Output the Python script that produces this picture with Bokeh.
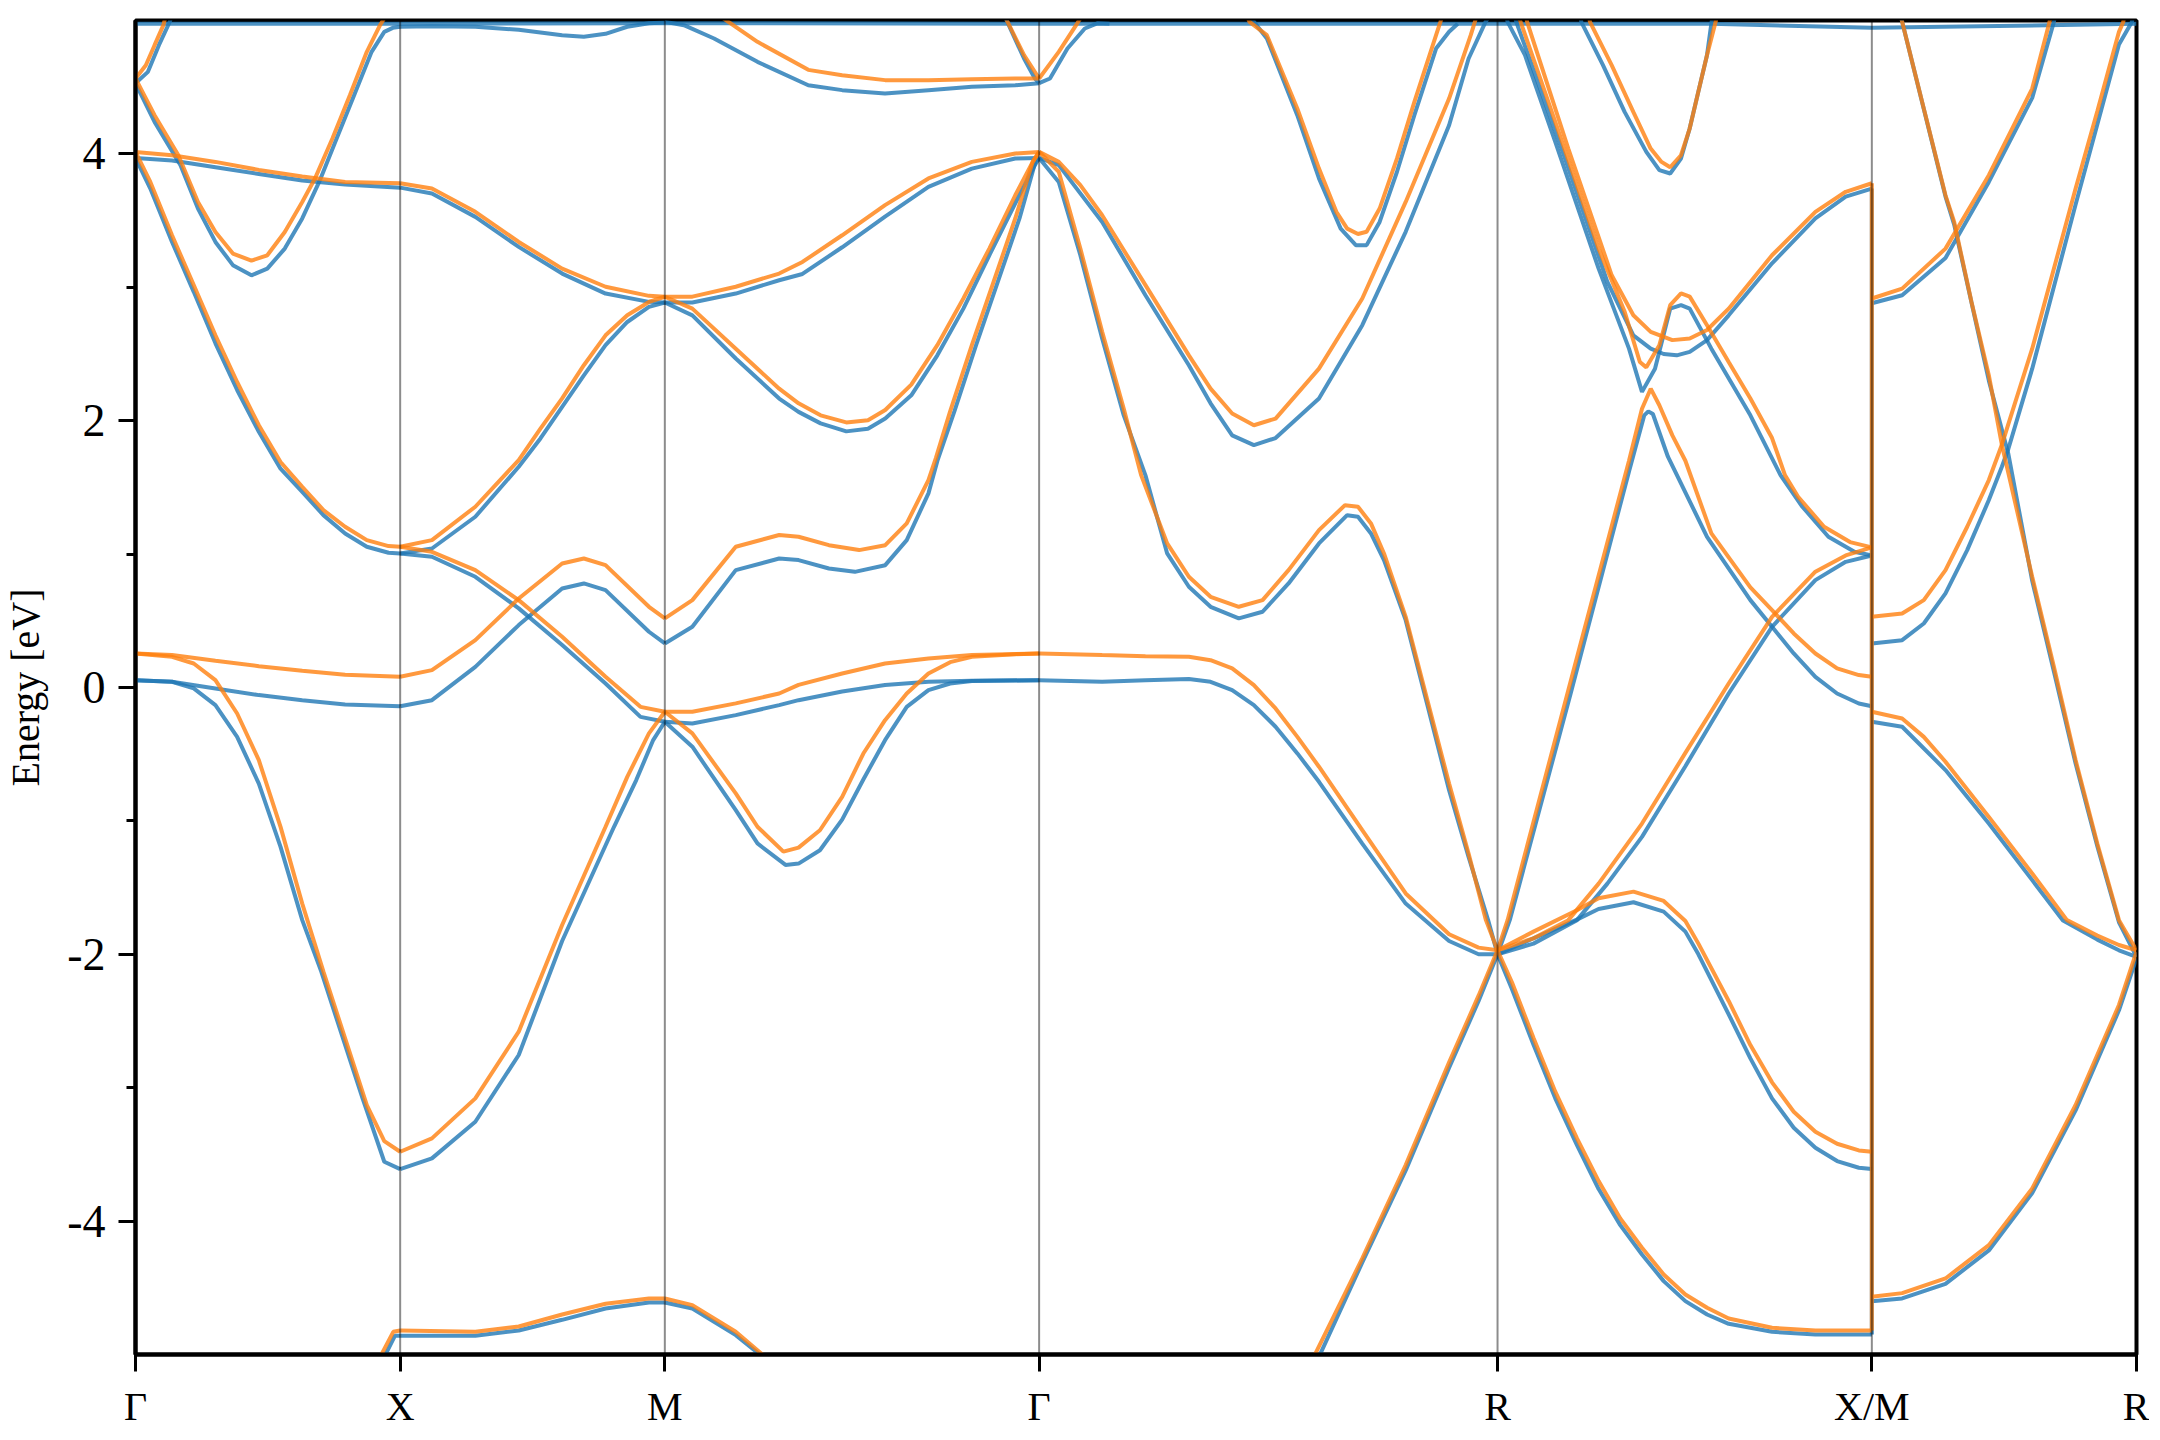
import math
from bokeh.plotting import figure
from bokeh.models import FixedTicker, Span
from bokeh.embed import file_html
from bokeh.resources import INLINE

# high-symmetry path positions (simple cubic, units of 2pi/a)
K_G, K_X, K_M = 0.0, 0.5, 1.0
K_G2 = K_M + math.sqrt(0.5)
K_R = K_G2 + math.sqrt(0.75)
K_XM = K_R + math.sqrt(0.5)
K_R2 = K_XM + 0.5
TICK_K = [K_G, K_X, K_M, K_G2, K_R, K_XM, K_R2]
TICK_LABELS = ["Γ", "X", "M", "Γ", "R", "X/M", "R"]
Y_TICKS = [-4, -2, 0, 2, 4]
Y_TICK_LABELS = ["-4", "-2", "0", "2", "4"]
Y_MINOR = [-3, -1, 1, 3]

# ---------------- spin up (blue) : (k, E[eV]) ----------------
up_top = ([0.0, 0.5, 1.0, 1.7071, 2.5731, 2.977, 3.2802, 3.7802], [4.975, 4.975, 4.98, 4.975, 4.975, 4.975, 4.945, 4.975])
up_gx_top = ([0.0, 0.0235, 0.0442, 0.0646, 0.070], [4.53, 4.615, 4.815, 4.99, 5.05])
up_gx_dip = ([0.0, 0.036, 0.085, 0.118, 0.151, 0.184, 0.219, 0.249, 0.282, 0.315, 0.347, 0.380, 0.413, 0.446, 0.470, 0.486, 0.500],
             [4.53, 4.24, 3.915, 3.59, 3.34, 3.166, 3.09, 3.14, 3.29, 3.516, 3.79, 4.115, 4.44, 4.765, 4.915, 4.945, 4.953])
up_gx_flat = ([0.0, 0.069, 0.151, 0.233, 0.315, 0.396, 0.500], [3.97, 3.95, 3.90, 3.85, 3.80, 3.77, 3.747])
up_gx_par = ([0.0, 0.028, 0.069, 0.110, 0.151, 0.192, 0.233, 0.274, 0.315, 0.355, 0.396, 0.437, 0.478, 0.500],
             [3.97, 3.74, 3.34, 2.966, 2.58, 2.23, 1.917, 1.64, 1.467, 1.292, 1.155, 1.055, 1.01, 1.005])
up_gx_flat0 = ([0.0, 0.069, 0.151, 0.233, 0.315, 0.396, 0.500], [0.055, 0.043, -0.007, -0.057, -0.095, -0.127, -0.14])
up_gx_steep = ([0.0, 0.069, 0.110, 0.151, 0.192, 0.233, 0.274, 0.315, 0.351, 0.392, 0.429, 0.470, 0.500],
               [0.055, 0.043, -0.007, -0.132, -0.37, -0.72, -1.195, -1.744, -2.13, -2.63, -3.08, -3.555, -3.61])
up_gx_bot = ([0.466, 0.490, 0.500], [-5.05, -4.86, -4.86])

up_xm_top = ([0.500, 0.560, 0.642, 0.724, 0.806, 0.847, 0.888, 0.929, 0.970, 1.000],
             [4.953, 4.957, 4.953, 4.93, 4.89, 4.878, 4.90, 4.953, 4.98, 4.985])
up_xm_flat = ([0.500, 0.560, 0.642, 0.724, 0.806, 0.888, 0.970, 1.000], [3.747, 3.703, 3.528, 3.303, 3.103, 2.953, 2.891, 2.886])
up_xm_up = ([0.500, 0.560, 0.642, 0.724, 0.765, 0.806, 0.847, 0.888, 0.929, 0.970, 1.000],
            [1.005, 1.042, 1.28, 1.655, 1.867, 2.104, 2.34, 2.566, 2.74, 2.853, 2.886])
up_xm_dn = ([0.500, 0.560, 0.642, 0.724, 0.806, 0.888, 0.954, 1.000], [1.005, 0.98, 0.83, 0.593, 0.318, 0.03, -0.22, -0.257])
up_xm_hump = ([0.500, 0.560, 0.642, 0.724, 0.806, 0.847, 0.888, 0.970, 1.000], [-0.14, -0.095, 0.155, 0.468, 0.742, 0.78, 0.73, 0.418, 0.33])
up_xm_low = ([0.500, 0.560, 0.642, 0.724, 0.806, 0.904, 0.946, 0.978, 1.000], [-3.61, -3.53, -3.255, -2.755, -1.90, -1.044, -0.694, -0.394, -0.257])
up_xm_bot = ([0.500, 0.642, 0.724, 0.806, 0.888, 0.970, 1.000], [-4.86, -4.86, -4.82, -4.74, -4.655, -4.61, -4.61])

up_mg_top = ([1.000, 1.036, 1.093, 1.175, 1.271, 1.335, 1.416, 1.498, 1.580, 1.662, 1.7071],
             [4.99, 4.965, 4.865, 4.69, 4.515, 4.478, 4.453, 4.478, 4.503, 4.515, 4.53])
up_mg_steep = ([1.640, 1.6786, 1.6991, 1.7071], [5.05, 4.715, 4.565, 4.53])
up_mg_d = ([1.000, 1.052, 1.134, 1.216, 1.260, 1.335, 1.416, 1.498, 1.580, 1.662, 1.7071],
           [2.886, 2.886, 2.953, 3.053, 3.10, 3.30, 3.53, 3.753, 3.89, 3.965, 3.97])
up_mg_min2 = ([1.000, 1.052, 1.134, 1.216, 1.2526, 1.2943, 1.3428, 1.3838, 1.4164, 1.4656, 1.5148, 1.564, 1.613, 1.662, 1.699, 1.7071],
              [2.886, 2.79, 2.466, 2.166, 2.066, 1.98, 1.92, 1.94, 2.016, 2.19, 2.49, 2.84, 3.24, 3.63, 3.916, 3.97])
up_mg_q = ([1.000, 1.052, 1.134, 1.216, 1.2526, 1.310, 1.359, 1.4164, 1.457, 1.498, 1.515, 1.547, 1.588, 1.629, 1.670, 1.700, 1.7071],
           [0.33, 0.455, 0.88, 0.967, 0.955, 0.892, 0.867, 0.917, 1.105, 1.455, 1.70, 2.07, 2.566, 3.04, 3.516, 3.94, 3.97])
up_mg_uf = ([1.000, 1.052, 1.134, 1.216, 1.2526, 1.335, 1.416, 1.498, 1.580, 1.7071],
            [-0.257, -0.27, -0.207, -0.132, -0.095, -0.03, 0.018, 0.043, 0.05, 0.055])
up_mg_lo = ([1.000, 1.052, 1.134, 1.175, 1.228, 1.2526, 1.293, 1.335, 1.375, 1.416, 1.457, 1.498, 1.539, 1.580, 1.7071],
            [-0.257, -0.444, -0.919, -1.169, -1.33, -1.32, -1.22, -0.99, -0.69, -0.395, -0.145, -0.02, 0.03, 0.048, 0.055])
up_mg_bot = ([1.000, 1.052, 1.134, 1.195], [-4.61, -4.655, -4.855, -5.05])

up_gr_top = ([1.7071, 1.7276, 1.7606, 1.7934, 1.818, 1.84], [4.53, 4.565, 4.79, 4.94, 4.98, 4.975])
up_gr_e1 = ([1.7071, 1.7442, 1.8262, 1.908, 1.990, 2.031, 2.0718, 2.1128, 2.1538, 2.2358, 2.3176, 2.3996, 2.4816, 2.5185, 2.5505, 2.560],
            [3.97, 3.916, 3.49, 2.94, 2.416, 2.13, 1.89, 1.817, 1.87, 2.166, 2.716, 3.416, 4.215, 4.715, 4.99, 5.05])
up_gr_e2 = ([1.7071, 1.7442, 1.785, 1.8262, 1.867, 1.908, 1.949, 1.990, 2.031, 2.0843, 2.1292, 2.1783, 2.2358, 2.289, 2.3095, 2.334,
             2.3586, 2.3996, 2.4406, 2.4816, 2.5184, 2.5553, 2.5731],
            [3.97, 3.79, 3.24, 2.616, 2.04, 1.59, 1.005, 0.755, 0.605, 0.518, 0.568, 0.78, 1.08, 1.292, 1.28, 1.155,
             0.955, 0.505, -0.132, -0.77, -1.27, -1.744, -2.0])
up_gr_flat = ([1.7071, 1.8262, 1.908, 1.990, 2.031, 2.0718, 2.1128, 2.1538, 2.195, 2.2358, 2.3176, 2.3996, 2.4816, 2.5373, 2.5731],
              [0.055, 0.043, 0.055, 0.063, 0.043, -0.02, -0.132, -0.294, -0.494, -0.707, -1.17, -1.62, -1.9, -2.0, -2.0])
up_gr_dip = ([2.105, 2.1128, 2.1374, 2.1948, 2.2358, 2.2768, 2.3054, 2.3258, 2.3504, 2.3832, 2.416, 2.457, 2.4816, 2.498],
             [5.05, 4.99, 4.865, 4.29, 3.816, 3.44, 3.316, 3.316, 3.49, 3.866, 4.29, 4.79, 4.915, 4.975])
up_gr_bot = ([2.232, 2.3176, 2.3996, 2.4816, 2.5373, 2.5731], [-5.05, -4.31, -3.62, -2.85, -2.35, -2.0])

up_rx_L1 = ([2.5731, 2.5962, 2.7109, 2.8215, 2.8502, 2.858, 2.8666, 2.895, 2.9689, 3.0508, 3.0917, 3.1327, 3.1736, 3.2146, 3.2557, 3.2802],
            [-2.0, -1.744, -0.05, 1.62, 2.04, 2.07, 2.05, 1.73, 1.13, 0.655, 0.455, 0.255, 0.08, -0.045, -0.12, -0.14])
up_rx_L2 = ([2.589, 2.5921, 2.625, 2.6822, 2.7641, 2.8215, 2.846, 2.8706, 2.8993, 2.9198, 2.9362, 2.9771, 3.0508, 3.108, 3.149, 3.1982, 3.2473, 3.2802],
            [5.05, 4.99, 4.74, 4.09, 3.14, 2.54, 2.216, 2.39, 2.84, 2.866, 2.84, 2.54, 2.04, 1.59, 1.355, 1.13, 1.017, 0.99])
up_rx_L3 = ([2.605, 2.6085, 2.6986, 2.7806, 2.8297, 2.8625, 2.887, 2.9116, 2.9362, 2.9689, 3.0098, 3.0917, 3.1736, 3.2309, 3.2802],
            [5.05, 4.99, 3.99, 3.04, 2.64, 2.54, 2.50, 2.49, 2.516, 2.604, 2.79, 3.18, 3.516, 3.68, 3.74])
up_rx_dip = ([2.729, 2.7313, 2.7723, 2.8132, 2.8542, 2.8788, 2.8993, 2.9197, 2.9361, 2.9524, 2.9688, 2.977, 2.980],
             [5.05, 4.99, 4.665, 4.315, 4.015, 3.878, 3.853, 3.965, 4.19, 4.465, 4.74, 4.975, 5.05])
up_rx_hump = ([2.5731, 2.641, 2.723, 2.764, 2.830, 2.887, 2.928, 2.9526, 3.0098, 3.0508, 3.0917, 3.1327, 3.1736, 3.2146, 3.2557, 3.2802],
              [-2.0, -1.88, -1.74, -1.66, -1.61, -1.68, -1.83, -2.0, -2.45, -2.78, -3.08, -3.3, -3.45, -3.55, -3.6, -3.61])
up_rx_rise = ([2.5731, 2.641, 2.7232, 2.7806, 2.846, 2.928, 3.0098, 3.0917, 3.1736, 3.2309, 3.2802],
              [-2.0, -1.92, -1.744, -1.47, -1.12, -0.59, -0.045, 0.455, 0.805, 0.942, 0.99])
up_rx_low = ([2.5731, 2.6003, 2.6413, 2.6822, 2.7232, 2.7641, 2.805, 2.846, 2.887, 2.928, 2.969, 3.0098, 3.0917, 3.1736, 3.2802],
             [-2.0, -2.26, -2.68, -3.08, -3.43, -3.76, -4.03, -4.25, -4.45, -4.60, -4.70, -4.77, -4.83, -4.85, -4.85])

up_mr_1 = ([3.2802, 3.3375, 3.3784, 3.4194, 3.4604, 3.5013, 3.5259, 3.5382, 3.5832, 3.6652, 3.7062, 3.7471, 3.7717, 3.774],
           [0.33, 0.355, 0.48, 0.705, 1.03, 1.405, 1.655, 1.79, 2.39, 3.62, 4.22, 4.82, 4.99, 5.05])
up_mr_2 = ([3.334, 3.3375, 3.4194, 3.4358, 3.5013, 3.5382, 3.5832, 3.6242, 3.6652, 3.7062, 3.7471, 3.7802],
           [5.05, 4.99, 3.68, 3.47, 2.30, 1.75, 0.80, 0.12, -0.57, -1.19, -1.76, -2.02])
up_mr_3 = ([3.2802, 3.3375, 3.4194, 3.5013, 3.5832, 3.6242, 3.627], [2.88, 2.94, 3.22, 3.79, 4.42, 4.99, 5.05])
up_mr_4 = ([3.2802, 3.3375, 3.4194, 3.5013, 3.5832, 3.6406, 3.7062, 3.7471, 3.7802],
           [-0.257, -0.294, -0.619, -1.019, -1.444, -1.744, -1.89, -1.97, -2.02])
up_mr_5 = ([3.2802, 3.3375, 3.4194, 3.5013, 3.5832, 3.6652, 3.7471, 3.7802], [-4.60, -4.58, -4.47, -4.22, -3.79, -3.17, -2.42, -2.03])

# ---------------- spin down (orange) ----------------
dn_gx_top = ([0.0, 0.0195, 0.036, 0.0527, 0.058], [4.565, 4.665, 4.815, 4.965, 5.05])
dn_gx_dip = ([0.0, 0.036, 0.081, 0.118, 0.151, 0.184, 0.219, 0.249, 0.282, 0.315, 0.339, 0.372, 0.405, 0.437, 0.462, 0.475],
             [4.565, 4.29, 3.99, 3.64, 3.415, 3.253, 3.20, 3.24, 3.415, 3.64, 3.815, 4.115, 4.44, 4.765, 4.965, 5.05])
dn_gx_flat = ([0.0, 0.069, 0.151, 0.233, 0.315, 0.396, 0.500], [4.015, 3.99, 3.94, 3.88, 3.83, 3.79, 3.78])
dn_gx_par = ([0.0, 0.028, 0.069, 0.110, 0.151, 0.192, 0.233, 0.274, 0.315, 0.355, 0.396, 0.437, 0.478, 0.500],
             [4.015, 3.79, 3.39, 3.016, 2.64, 2.29, 1.966, 1.69, 1.505, 1.33, 1.205, 1.105, 1.06, 1.055])
dn_gx_flat0 = ([0.0, 0.069, 0.151, 0.233, 0.315, 0.396, 0.500], [0.255, 0.243, 0.2, 0.16, 0.125, 0.095, 0.08])
dn_gx_steep = ([0.0, 0.069, 0.110, 0.151, 0.192, 0.233, 0.274, 0.315, 0.355, 0.396, 0.437, 0.470, 0.500],
               [0.255, 0.23, 0.18, 0.055, -0.195, -0.545, -1.045, -1.62, -2.13, -2.63, -3.13, -3.40, -3.48])
dn_gx_bot = ([0.458, 0.487, 0.500], [-5.05, -4.83, -4.82])

dn_xm_flat = ([0.500, 0.560, 0.642, 0.724, 0.806, 0.888, 0.970, 1.000], [3.78, 3.74, 3.566, 3.34, 3.14, 3.004, 2.936, 2.929])
dn_xm_up = ([0.500, 0.560, 0.642, 0.724, 0.765, 0.806, 0.847, 0.888, 0.929, 0.970, 1.000],
            [1.055, 1.105, 1.355, 1.705, 1.94, 2.167, 2.416, 2.64, 2.79, 2.89, 2.929])
dn_xm_dn = ([0.500, 0.560, 0.642, 0.724, 0.806, 0.888, 0.954, 1.000], [1.055, 1.017, 0.88, 0.655, 0.38, 0.08, -0.145, -0.182])
dn_xm_hump = ([0.500, 0.560, 0.642, 0.724, 0.806, 0.847, 0.888, 0.970, 1.000], [0.08, 0.13, 0.355, 0.667, 0.93, 0.967, 0.917, 0.605, 0.518])
dn_xm_low = ([0.500, 0.560, 0.642, 0.724, 0.806, 0.888, 0.929, 0.970, 1.000], [-3.48, -3.38, -3.08, -2.58, -1.78, -1.044, -0.67, -0.344, -0.182])
dn_xm_bot = ([0.500, 0.642, 0.724, 0.806, 0.888, 0.970, 1.000], [-4.82, -4.83, -4.79, -4.70, -4.62, -4.58, -4.58])

dn_mg_top = ([1.098, 1.175, 1.271, 1.335, 1.416, 1.498, 1.580, 1.662, 1.7071], [5.05, 4.84, 4.63, 4.59, 4.553, 4.553, 4.56, 4.565, 4.565])
dn_mg_steep = ([1.640, 1.6786, 1.7071], [5.05, 4.74, 4.565])
dn_mg_d = ([1.000, 1.052, 1.134, 1.216, 1.260, 1.335, 1.416, 1.498, 1.580, 1.662, 1.7071],
           [2.929, 2.93, 3.004, 3.103, 3.19, 3.39, 3.616, 3.816, 3.94, 4.003, 4.015])
dn_mg_min2 = ([1.000, 1.052, 1.134, 1.216, 1.2526, 1.2943, 1.3428, 1.3838, 1.4164, 1.4656, 1.5148, 1.564, 1.613, 1.662, 1.695, 1.7071],
              [2.929, 2.84, 2.54, 2.24, 2.13, 2.04, 1.987, 2.004, 2.08, 2.27, 2.566, 2.916, 3.29, 3.69, 3.94, 4.015])
dn_mg_q = ([1.000, 1.052, 1.134, 1.216, 1.2526, 1.310, 1.367, 1.4164, 1.457, 1.498, 1.512, 1.539, 1.580, 1.621, 1.662, 1.695, 1.7071],
           [0.518, 0.655, 1.055, 1.143, 1.13, 1.067, 1.03, 1.067, 1.23, 1.555, 1.72, 2.07, 2.566, 3.04, 3.516, 3.94, 4.015])
dn_mg_uf = ([1.000, 1.052, 1.134, 1.216, 1.2526, 1.335, 1.416, 1.498, 1.580, 1.7071],
            [-0.182, -0.182, -0.119, -0.045, 0.02, 0.105, 0.18, 0.218, 0.243, 0.255])
dn_mg_lo = ([1.000, 1.052, 1.134, 1.175, 1.224, 1.2526, 1.293, 1.335, 1.375, 1.416, 1.457, 1.498, 1.539, 1.580, 1.662, 1.7071],
            [-0.182, -0.344, -0.794, -1.044, -1.23, -1.2, -1.07, -0.82, -0.495, -0.245, -0.045, 0.105, 0.19, 0.23, 0.25, 0.255])
dn_mg_bot = ([1.000, 1.052, 1.134, 1.199], [-4.58, -4.63, -4.83, -5.05])

dn_gr_top = ([1.7071, 1.7442, 1.777, 1.790], [4.565, 4.765, 4.965, 5.05])
dn_gr_e1 = ([1.7071, 1.7442, 1.785, 1.8262, 1.908, 1.990, 2.031, 2.0718, 2.1128, 2.1538, 2.2358, 2.3176, 2.3996, 2.4816, 2.5225, 2.535],
            [4.015, 3.94, 3.766, 3.54, 3.016, 2.49, 2.24, 2.054, 1.966, 2.016, 2.39, 2.916, 3.64, 4.415, 4.89, 5.05])
dn_gr_e2 = ([1.7071, 1.7442, 1.785, 1.8262, 1.867, 1.900, 1.949, 1.990, 2.031, 2.0843, 2.1292, 2.1783, 2.2358, 2.2849, 2.3095, 2.334,
             2.3586, 2.3996, 2.4406, 2.4816, 2.5184, 2.5512, 2.5731],
            [4.015, 3.866, 3.29, 2.666, 2.09, 1.59, 1.08, 0.83, 0.68, 0.605, 0.655, 0.88, 1.18, 1.367, 1.355, 1.23,
             1.005, 0.53, -0.095, -0.72, -1.244, -1.744, -1.97])
dn_gr_flat = ([1.7071, 1.8262, 1.908, 1.990, 2.031, 2.0718, 2.1128, 2.1538, 2.195, 2.2358, 2.3176, 2.3996, 2.4816, 2.5373, 2.5731],
              [0.255, 0.243, 0.235, 0.23, 0.205, 0.143, 0.018, -0.157, -0.37, -0.594, -1.07, -1.544, -1.85, -1.95, -1.97])
dn_gr_dip = ([2.098, 2.1046, 2.1374, 2.1948, 2.2358, 2.2686, 2.2891, 2.3095, 2.3258, 2.3504, 2.3832, 2.416, 2.457, 2.4652, 2.470],
             [5.05, 4.99, 4.89, 4.34, 3.89, 3.566, 3.44, 3.40, 3.416, 3.59, 3.966, 4.39, 4.89, 4.99, 5.05])
dn_gr_bot = ([2.222, 2.3176, 2.3996, 2.4816, 2.5373, 2.5731], [-5.05, -4.28, -3.58, -2.81, -2.31, -1.97])

dn_rx_L1 = ([2.5731, 2.5921, 2.7068, 2.8215, 2.846, 2.8625, 2.8788, 2.9034, 2.928, 2.9771, 3.0508, 3.0917, 3.1327, 3.1736, 3.2146, 3.2557, 3.2802],
            [-1.97, -1.744, -0.02, 1.70, 2.09, 2.24, 2.116, 1.89, 1.70, 1.155, 0.75, 0.58, 0.405, 0.255, 0.143, 0.093, 0.08])
dn_rx_L2 = ([2.611, 2.6167, 2.6822, 2.7641, 2.8133, 2.842, 2.8542, 2.8788, 2.8993, 2.9198, 2.9362, 2.9689, 3.0098, 3.0508, 3.0917, 3.1163,
             3.1409, 3.190, 3.2391, 3.2802],
            [5.05, 4.99, 4.24, 3.29, 2.816, 2.44, 2.40, 2.566, 2.866, 2.954, 2.93, 2.716, 2.44, 2.166, 1.87, 1.59,
             1.43, 1.205, 1.09, 1.05])
dn_rx_L3 = ([2.626, 2.629, 2.7068, 2.7888, 2.8297, 2.8625, 2.9034, 2.9362, 2.9689, 3.0098, 3.0917, 3.1736, 3.2309, 3.2802],
            [5.05, 4.99, 4.04, 3.09, 2.79, 2.666, 2.604, 2.616, 2.68, 2.84, 3.24, 3.566, 3.716, 3.78])
dn_rx_dip = ([2.745, 2.7477, 2.7887, 2.8296, 2.8624, 2.8829, 2.8993, 2.9197, 2.9361, 2.9524, 2.9688, 2.9852, 2.988],
             [5.05, 4.99, 4.665, 4.315, 4.04, 3.94, 3.90, 3.99, 4.19, 4.465, 4.74, 4.99, 5.05])
dn_rx_hump = ([2.5731, 2.641, 2.723, 2.764, 2.830, 2.887, 2.928, 2.9526, 3.0098, 3.0508, 3.0917, 3.1327, 3.1736, 3.2146, 3.2557, 3.2802],
              [-1.97, -1.83, -1.67, -1.58, -1.53, -1.6, -1.75, -1.92, -2.35, -2.68, -2.96, -3.18, -3.33, -3.42, -3.47, -3.48])
dn_rx_rise = ([2.5731, 2.641, 2.7068, 2.7641, 2.846, 2.928, 3.0098, 3.0917, 3.1736, 3.2309, 3.2802],
              [-1.97, -1.88, -1.744, -1.47, -1.02, -0.49, 0.03, 0.53, 0.868, 0.99, 1.05])
dn_rx_low = ([2.5731, 2.6003, 2.6413, 2.6822, 2.7232, 2.7641, 2.805, 2.846, 2.887, 2.928, 2.969, 3.0098, 3.0917, 3.1736, 3.2802],
             [-1.97, -2.21, -2.63, -3.03, -3.38, -3.70, -3.98, -4.20, -4.40, -4.55, -4.65, -4.73, -4.80, -4.82, -4.82])

dn_mr_1 = ([3.2802, 3.3375, 3.3784, 3.4194, 3.4604, 3.5013, 3.5259, 3.5832, 3.6652, 3.7062, 3.7471, 3.7553, 3.758],
           [0.53, 0.555, 0.655, 0.88, 1.205, 1.555, 1.82, 2.54, 3.74, 4.32, 4.915, 4.99, 5.05])
dn_mr_2 = ([3.334, 3.3375, 3.3784, 3.4194, 3.4358, 3.4685, 3.5013, 3.5259, 3.5832, 3.6242, 3.6652, 3.7062, 3.7471, 3.7802],
           [5.05, 4.99, 4.34, 3.69, 3.49, 2.89, 2.34, 1.82, 0.83, 0.155, -0.544, -1.17, -1.744, -1.97])
dn_mr_3 = ([3.2802, 3.3375, 3.4194, 3.5013, 3.5832, 3.616, 3.619], [2.916, 2.99, 3.29, 3.84, 4.49, 4.99, 5.05])
dn_mr_4 = ([3.2802, 3.3375, 3.3784, 3.4194, 3.5013, 3.5832, 3.6488, 3.7062, 3.7471, 3.7802],
           [-0.182, -0.232, -0.37, -0.557, -0.97, -1.394, -1.744, -1.86, -1.93, -1.97])
dn_mr_5 = ([3.2802, 3.3375, 3.4194, 3.5013, 3.5832, 3.6652, 3.7471, 3.7802], [-4.567, -4.54, -4.43, -4.18, -3.755, -3.13, -2.38, -1.98])

UP_BANDS = [up_top, up_gx_top, up_gx_dip, up_gx_flat, up_gx_par, up_gx_flat0, up_gx_steep, up_gx_bot,
            up_xm_top, up_xm_flat, up_xm_up, up_xm_dn, up_xm_hump, up_xm_low, up_xm_bot,
            up_mg_top, up_mg_steep, up_mg_d, up_mg_min2, up_mg_q, up_mg_uf, up_mg_lo, up_mg_bot,
            up_gr_top, up_gr_e1, up_gr_e2, up_gr_flat, up_gr_dip, up_gr_bot,
            up_rx_L1, up_rx_L2, up_rx_L3, up_rx_dip, up_rx_hump, up_rx_rise, up_rx_low,
            up_mr_1, up_mr_2, up_mr_3, up_mr_4, up_mr_5]
DN_BANDS = [dn_gx_top, dn_gx_dip, dn_gx_flat, dn_gx_par, dn_gx_flat0, dn_gx_steep, dn_gx_bot,
            dn_xm_flat, dn_xm_up, dn_xm_dn, dn_xm_hump, dn_xm_low, dn_xm_bot,
            dn_mg_top, dn_mg_steep, dn_mg_d, dn_mg_min2, dn_mg_q, dn_mg_uf, dn_mg_lo, dn_mg_bot,
            dn_gr_top, dn_gr_e1, dn_gr_e2, dn_gr_flat, dn_gr_dip, dn_gr_bot,
            dn_rx_L1, dn_rx_L2, dn_rx_L3, dn_rx_dip, dn_rx_hump, dn_rx_rise, dn_rx_low,
            dn_mr_1, dn_mr_2, dn_mr_3, dn_mr_4, dn_mr_5]

BLUE = "#1f77b4"
ORANGE = "#ff7f0e"
FONT = "Liberation Serif"

p = figure(frame_width=2001, frame_height=1334, x_range=(K_G, K_R2), y_range=(-5, 5),
           output_backend="svg", toolbar_location=None,
           min_border_left=130, min_border_right=13, min_border_top=20, min_border_bottom=78)
p.background_fill_color = "white"
p.border_fill_color = "white"
p.grid.visible = False
p.outline_line_color = "black"
p.outline_line_width = 4


def split(bands):
    xs, ys = [], []
    for ks, es in bands:
        n = min(len(ks), len(es))
        xs.append(list(ks[:n]))
        ys.append(list(es[:n]))
    return xs, ys


def xm_extent(bands):
    vals = []
    for ks, es in bands:
        if abs(ks[0] - K_XM) < 2e-3:
            vals.append(es[0])
        if abs(ks[-1] - K_XM) < 2e-3:
            vals.append(es[-1])
    return min(vals), max(vals)


for bands, col in ((UP_BANDS, BLUE), (DN_BANDS, ORANGE)):
    xs, ys = split(bands)
    p.multi_line(xs=xs, ys=ys, line_color=col, line_width=4, line_alpha=0.8)
    lo, hi = xm_extent(bands)
    p.segment(x0=[K_XM], y0=[lo], x1=[K_XM], y1=[hi], line_color=col, line_width=4, line_alpha=0.8)

for k in TICK_K[1:-1]:
    p.add_layout(Span(location=k, dimension="height", line_color="black", line_alpha=0.45, line_width=2))

xa = p.xaxis[0]
ya = p.yaxis[0]
xa.ticker = FixedTicker(ticks=TICK_K)
xa.major_label_overrides = {k: lab for k, lab in zip(TICK_K, TICK_LABELS)}
ya.ticker = FixedTicker(ticks=Y_TICKS, minor_ticks=Y_MINOR)
ya.major_label_overrides = {v: lab for v, lab in zip(Y_TICKS, Y_TICK_LABELS)}
ya.axis_label = "Energy [eV]"

for ax in (xa, ya):
    ax.axis_line_width = 4
    ax.axis_line_color = "black"
    ax.major_tick_line_width = 3
    ax.major_tick_line_color = "black"
    ax.major_tick_out = 17
    ax.major_tick_in = 0
    ax.minor_tick_out = 9
    ax.minor_tick_in = 0
    ax.minor_tick_line_width = 3
    ax.minor_tick_line_color = "black"
    ax.major_label_text_font = FONT
    ax.major_label_text_color = "black"
    ax.axis_label_text_font = FONT
    ax.axis_label_text_font_style = "normal"
    ax.axis_label_text_color = "black"

xa.minor_tick_line_color = None
xa.major_label_text_font_size = "40px"
xa.major_label_standoff = 12
ya.major_label_text_font_size = "46px"
ya.major_label_standoff = 13
ya.axis_label_text_font_size = "40px"
ya.axis_label_standoff = 16

open("out.html", "w").write(file_html(p, INLINE))
